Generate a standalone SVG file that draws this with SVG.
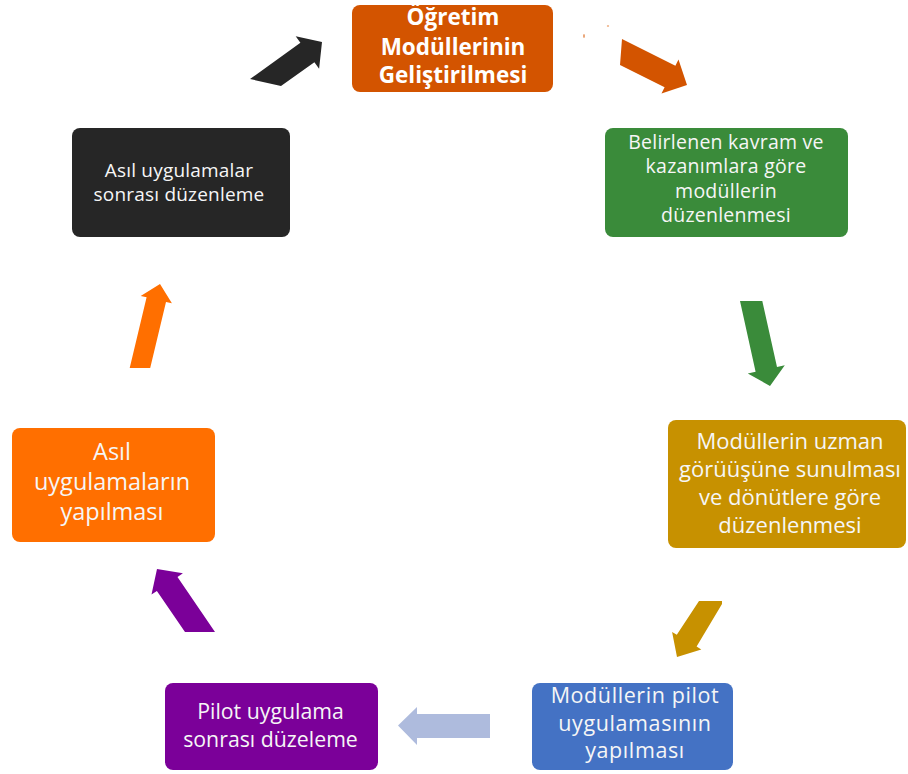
<svg xmlns="http://www.w3.org/2000/svg" width="908" height="774" viewBox="0 0 908 774">
  <style>
    .box { stroke: none; }
    .lbl { font-family: "Open Sans", Lato, "Liberation Sans", sans-serif; fill: #f6f6f6; text-anchor: middle; }
    .lbl-b { font-weight: bold; font-size: 22.5px; fill: #ffffff; }
  </style>
  <rect width="908" height="774" fill="#ffffff"/>

  <!-- connectors: block arrows around the cycle -->
  <g id="connectors">
    <polygon fill="#262626" points="250,79 300.4,42.8 295.7,36.3 322,42 319.1,68.7 314.4,62.2 281,86"/>
    <polygon fill="#D35400" points="622,39 675.4,65.8 678.5,59.5 687,85 661.5,93.5 664.6,87.2 620,65"/>
    <polygon fill="#3A8B3A" points="740,301 762.3,301 777,367 784.8,365.3 770,386 747.8,373.5 755.6,371.8"/>
    <polygon fill="#C79100" points="699,601 722,601 722,604 696.6,646.6 701.3,649.4 677,657 672.1,632 676.8,634.8"/>
    <polygon fill="#AEBBDD" points="490,714 417,714 417,707 398,725.5 417,745 417,738 490,738"/>
    <polygon fill="#7B0099" points="185,632 156.9,590.9 151.5,594.6 157,569 182.9,573.2 177.5,576.9 215,632"/>
    <polygon fill="#FF6F00" points="129.7,368 146.6,297.3 140.7,295.9 160,284 171.9,303.3 166,301.9 150.2,368"/>
    <!-- small stray marks near the top-right arrow -->
    <ellipse cx="584" cy="36" rx="1" ry="2" fill="#E8A070"/>
    <ellipse cx="608" cy="26" rx="1.2" ry="1" fill="#F0B890"/>
  </g>

  <g id="node-ogretim">
    <rect class="box" x="352" y="5" width="201" height="87" rx="8" fill="#D35400"/>
    <text class="lbl lbl-b" x="453" y="25">Öğretim</text>
    <text class="lbl lbl-b" x="453" y="54.5">Modüllerinin</text>
    <text class="lbl lbl-b" x="453" y="83">Geliştirilmesi</text>
  </g>

  <g id="node-belirlenen">
    <rect class="box" x="605" y="128" width="243" height="109" rx="8" fill="#3A8B3A"/>
    <g font-size="19.5" letter-spacing="0.25">
      <text class="lbl" x="726" y="148.5">Belirlenen kavram ve</text>
      <text class="lbl" x="726" y="173">kazanımlara göre</text>
      <text class="lbl" x="726" y="197.5">modüllerin</text>
      <text class="lbl" x="726" y="222">düzenlenmesi</text>
    </g>
  </g>

  <g id="node-uzman">
    <rect class="box" x="668" y="420" width="238" height="128" rx="8" fill="#C79100"/>
    <g font-size="22">
      <text class="lbl" x="790" y="449">Modüllerin uzman</text>
      <text class="lbl" x="790" y="477">görüüşüne sunulması</text>
      <text class="lbl" x="790" y="505">ve dönütlere göre</text>
      <text class="lbl" x="790" y="533">düzenlenmesi</text>
    </g>
  </g>

  <g id="node-pilot">
    <rect class="box" x="532" y="683" width="201" height="87" rx="8" fill="#4472C4"/>
    <g font-size="21.5" letter-spacing="0.6">
      <text class="lbl" x="635" y="703">Modüllerin pilot</text>
      <text class="lbl" x="635" y="730.5">uygulamasının</text>
      <text class="lbl" x="635" y="758">yapılması</text>
    </g>
  </g>

  <g id="node-pilot-sonrasi">
    <rect class="box" x="165" y="683" width="213" height="87" rx="8" fill="#7B0099"/>
    <g font-size="21.3">
      <text class="lbl" x="270.5" y="719">Pilot uygulama</text>
      <text class="lbl" x="270.5" y="747">sonrası düzeleme</text>
    </g>
  </g>

  <g id="node-asil">
    <rect class="box" x="12" y="428" width="203" height="114" rx="8" fill="#FF6F00"/>
    <g font-size="23.5">
      <text class="lbl" x="112" y="460">Asıl</text>
      <text class="lbl" x="112" y="490">uygulamaların</text>
      <text class="lbl" x="112" y="520">yapılması</text>
    </g>
  </g>

  <g id="node-asil-sonrasi">
    <rect class="box" x="72" y="128" width="218" height="109" rx="8" fill="#262626"/>
    <g font-size="19" letter-spacing="0.2">
      <text class="lbl" x="179" y="176.5">Asıl uygulamalar</text>
      <text class="lbl" x="179" y="201">sonrası düzenleme</text>
    </g>
  </g>
</svg>
